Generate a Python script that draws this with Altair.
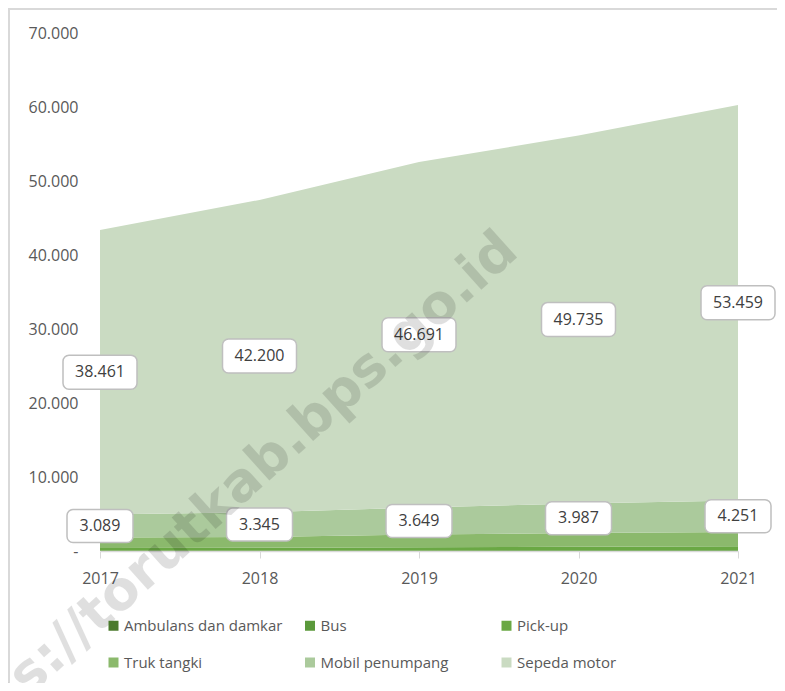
import altair as alt
import pandas as pd

years = [2017, 2018, 2019, 2020, 2021]
series = ["Ambulans dan damkar", "Bus", "Pick-up", "Truk tangki", "Mobil penumpang", "Sepeda motor"]
ambulans = [25, 27, 30, 32, 35]
bus = [45, 48, 52, 55, 60]
pickup = [330, 360, 420, 480, 540]
truk = [1430, 1460, 1720, 1850, 1930]
mobil = [3089, 3345, 3649, 3987, 4251]
sepeda = [38461, 42200, 46691, 49735, 53459]
colors = ["#4b7a2d", "#5b993b", "#6aa844", "#8bb96c", "#abca9c", "#cadbc2"]
y_ticks = [0, 10000, 20000, 30000, 40000, 50000, 60000, 70000]
watermark = "https://torutkab.bps.go.id"

rows = []
for i, (name, vals) in enumerate(zip(series, [ambulans, bus, pickup, truk, mobil, sepeda])):
    for yr, v in zip(years, vals):
        rows.append({"year": yr, "series": name, "idx": i, "value": v})
df = pd.DataFrame(rows)

FONT = "Open Sans"
GRAY = "#595959"

x_enc = alt.X(
    "year:O",
    scale=alt.Scale(type="point", padding=0),
    axis=alt.Axis(
        title=None, labelAngle=0, labelFontSize=16, labelColor=GRAY, labelFont=FONT,
        domainColor="#d9d9d9", tickColor="#d9d9d9", tickSize=7, labelPadding=12,
        grid=False, domainWidth=1.5,
    ),
)

nb = "\u00a0" * 7
area = alt.Chart(df).mark_area(opacity=1).encode(
    x=x_enc,
    y=alt.Y(
        "value:Q", stack="zero",
        scale=alt.Scale(domain=[0, 70000], nice=False),
        axis=alt.Axis(
            title=None, values=y_ticks, grid=False, ticks=False, domain=False,
            labelFontSize=16, labelColor=GRAY, labelFont=FONT, labelPadding=22,
            labelExpr="datum.value == 0 ? '-" + nb + "' : replace(format(datum.value, ','), ',', '.')",
        ),
    ),
    color=alt.Color(
        "series:N",
        scale=alt.Scale(domain=series, range=colors),
        legend=alt.Legend(
            title=None, orient="none", legendX=6, legendY=585, columns=3,
            gridAlign="all", symbolType="square", symbolSize=100, symbolStrokeWidth=0,
            labelFontSize=15, labelColor=GRAY, labelFont=FONT, columnPadding=19.5,
            rowPadding=21, direction="horizontal", labelLimit=300, symbolOpacity=1,
            labelOffset=3,
        ),
    ),
    order=alt.Order("idx:Q", sort="ascending"),
)

lab = (
    alt.Chart(df)
    .transform_stack(stack="value", groupby=["year"], sort=[alt.SortField("idx", "ascending")], as_=["y0", "y1"])
    .transform_calculate(mid="(datum.y0 + datum.y1) / 2", txt="replace(format(datum.value, ','), ',', '.')")
)
lab_x = alt.X("year:O")
lab_y = alt.Y("mid:Q")

box_moto = lab.transform_filter("datum.idx == 5").mark_rect(
    width=74, height=34, fill="white", stroke="#bfbfbf", strokeWidth=1.5, cornerRadius=6
).encode(x=lab_x, y=lab_y)
box_mobil = lab.transform_filter("datum.idx == 4").mark_rect(
    width=66, height=33, fill="white", stroke="#bfbfbf", strokeWidth=1.5, cornerRadius=6
).encode(x=lab_x, y=lab_y)
txt = lab.transform_filter("datum.idx >= 4").mark_text(
    fontSize=16, font=FONT, color="#404040", baseline="middle", align="center"
).encode(x=lab_x, y=lab_y, text="txt:N")

frame = alt.Chart(pd.DataFrame({"a": [0]})).mark_rect(
    fill=None, stroke="#d9d9d9", strokeWidth=2
).encode(x=alt.value(-91), x2=alt.value(720), y=alt.value(-24), y2=alt.value(700))

wm = alt.Chart(pd.DataFrame({"t": [watermark]})).mark_text(
    angle=318, fontSize=54, fontWeight="bold", font="DejaVu Sans", color="#000000",
    opacity=0.12, align="center", baseline="middle"
).encode(x=alt.value(116), y=alt.value(474), text="t:N")

chart = (
    alt.layer(frame, area, box_moto, box_mobil, txt, wm)
    .properties(
        width=638, height=518, autosize="none",
        padding={"left": 92, "top": 25, "right": 39, "bottom": 132},
    )
    .configure_view(stroke=None)
)

chart.save("out.html", embed_options={"renderer": "svg", "actions": False})
